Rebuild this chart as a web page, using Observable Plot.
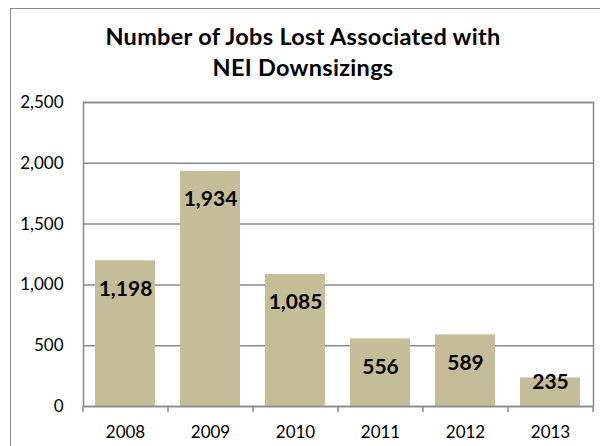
<!DOCTYPE html>
<html>
<head>
<meta charset="utf-8">
<script src="https://cdn.jsdelivr.net/npm/d3@7"></script>
<script src="https://cdn.jsdelivr.net/npm/@observablehq/plot@0.6"></script>
<style>
  html, body { margin: 0; padding: 0; background: #fff; overflow: hidden; }
  #wrap { position: relative; width: 600px; height: 446px; overflow: hidden; font-family: Lato, "Open Sans", sans-serif; }
  #outer { position: absolute; left: 10px; top: 8px; width: 800px; height: 800px; border: 1.5px solid #8a8a8a; box-sizing: border-box; }
  #title { position: absolute; left: 3px; top: 21px; width: 600px; text-align: center; font-weight: bold; font-size: 23.5px; letter-spacing: 0.3px; line-height: 31px; color: #000; }
  #chart { position: absolute; left: 0; top: 92px; }
</style>
</head>
<body>
<div id="wrap">
  <div id="outer"></div>
  <div id="title">Number of Jobs Lost Associated with<br>NEI Downsizings</div>
  <div id="chart"></div>
</div>
<script>
const years = ["2008", "2009", "2010", "2011", "2012", "2013"];
const jobsLost = [1198, 1934, 1085, 556, 589, 235];
const yTicks = [0, 500, 1000, 1500, 2000, 2500];
const titleLines = ["Number of Jobs Lost Associated with", "NEI Downsizings"];

const data = years.map((y, i) => ({year: y, value: jobsLost[i]}));
const fmt = d3.format(",");
const gridColor = "#898989";

const chart = Plot.plot({
  width: 600,
  height: 354,
  marginTop: 10,
  marginBottom: 40,
  marginLeft: 83,
  marginRight: 7,
  style: {fontFamily: "Lato, 'Open Sans', sans-serif", fontSize: "17px", color: "#000", background: "transparent"},
  x: {domain: years, paddingInner: 0.29, paddingOuter: 0.145, label: null},
  y: {domain: [0, 2500], label: null},
  marks: [
    Plot.gridY(yTicks, {stroke: gridColor, strokeOpacity: 1, strokeWidth: 1.5}),
    Plot.barY(data, {x: "year", y: "value", fill: "#c4bd97"}),
    Plot.frame({stroke: gridColor, strokeWidth: 1.5}),
    Plot.axisY(yTicks, {tickSize: 0, tickPadding: 20, tickFormat: fmt, fontSize: 17, fill: "#000"}),
    Plot.axisX({tickSize: 0, tickPadding: 19, fontSize: 17, fill: "#000"}),
    Plot.axisX({tickSize: 6, stroke: gridColor, strokeWidth: 1.5, strokeOpacity: 1, tickFormat: () => "", dx: -42.5}),
    Plot.axisX([years[years.length - 1]], {tickSize: 6, stroke: gridColor, strokeWidth: 1.5, strokeOpacity: 1, tickFormat: () => "", dx: 42.5}),
    Plot.text(data.filter(d => d.value >= 300), {x: "year", y: "value", text: d => fmt(d.value), dy: 28, fontWeight: "bold", fontSize: 21, fill: "#000"}),
    Plot.text(data.filter(d => d.value < 300), {x: "year", y: "value", text: d => fmt(d.value), dy: 4, fontWeight: "bold", fontSize: 21, fill: "#000"})
  ]
});
document.getElementById("chart").appendChild(chart);
</script>
</body>
</html>
